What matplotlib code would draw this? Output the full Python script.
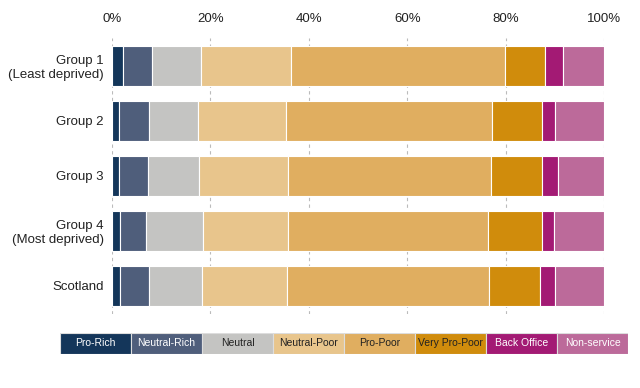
import numpy as np
import matplotlib
matplotlib.use("Agg")
import matplotlib.pyplot as plt

plt.rcParams['font.family'] = ['Liberation Sans', 'DejaVu Sans']

groups = ["Group 1\n(Least deprived)", "Group 2", "Group 3", "Group 4\n(Most deprived)", "Scotland"]
categories = ["Pro-Rich", "Neutral-Rich", "Neutral", "Neutral-Poor", "Pro-Poor",
              "Very Pro-Poor", "Back Office", "Non-service"]
colours = ["#14365a", "#4f5e7b", "#c4c4c2", "#e8c58c", "#e0ae60",
           "#d08c0c", "#a31a74", "#bc6a9a"]
text_colours = ["white", "white", "#222222", "#222222", "#222222", "#222222", "white", "white"]

# share of spend (%) per group, one list per category
pro_rich      = [2.3, 1.4, 1.4, 1.7, 1.6]
neutral_rich  = [5.8, 6.1, 6.0, 5.3, 5.9]
neutral       = [9.9, 9.9, 10.2, 11.5, 10.7]
neutral_poor  = [18.3, 17.9, 18.2, 17.2, 17.3]
pro_poor      = [43.6, 42.0, 41.3, 40.7, 41.2]
very_pro_poor = [8.1, 10.0, 10.2, 11.0, 10.3]
back_office   = [3.6, 2.7, 3.3, 2.4, 3.1]
non_service   = [8.4, 10.0, 9.4, 10.2, 9.9]

series = [pro_rich, neutral_rich, neutral, neutral_poor, pro_poor,
          very_pro_poor, back_office, non_service]

fig = plt.figure(figsize=(6.4, 3.88), dpi=100)
ax = fig.add_axes([0.175, 0.192, 0.769, 0.709])

y = np.arange(len(groups))
left = np.zeros(len(groups))
for vals, col in zip(series, colours):
    vals = np.array(vals)
    ax.barh(y, vals, left=left, height=0.73, color=col, edgecolor="white", linewidth=0.8)
    left += vals

ax.set_ylim(len(groups) - 0.5, -0.5)
ax.set_xlim(0, 100)
ax.set_yticks(y)
ax.set_yticklabels(groups, fontsize=9.5, color="#222222")
ax.set_xticks([0, 20, 40, 60, 80, 100])
ax.set_xticklabels(["0%", "20%", "40%", "60%", "80%", "100%"], fontsize=9.5, color="#222222")
ax.xaxis.tick_top()
ax.tick_params(axis="x", length=0, pad=10)
ax.tick_params(axis="y", length=0, pad=6)
ax.xaxis.grid(True, linestyle=(0, (3, 3)), color="#bbbbbb", linewidth=0.8)
ax.set_axisbelow(True)
for s in ax.spines.values():
    s.set_visible(False)

# legend as a row of coloured boxes with the label inside
lax = fig.add_axes([60 / 640, 1 - 354 / 388, 568 / 640, 21 / 388])
for i, (cat, col, tc) in enumerate(zip(categories, colours, text_colours)):
    lax.barh(0, 1, left=i, height=1, color=col, edgecolor="#dddddd", linewidth=0.8)
    lax.text(i + 0.5, 0, cat, ha="center", va="center", fontsize=7.5, color=tc)
lax.set_xlim(0, len(categories))
lax.set_ylim(-0.5, 0.5)
lax.axis("off")

fig.savefig("out.png", dpi=100)
